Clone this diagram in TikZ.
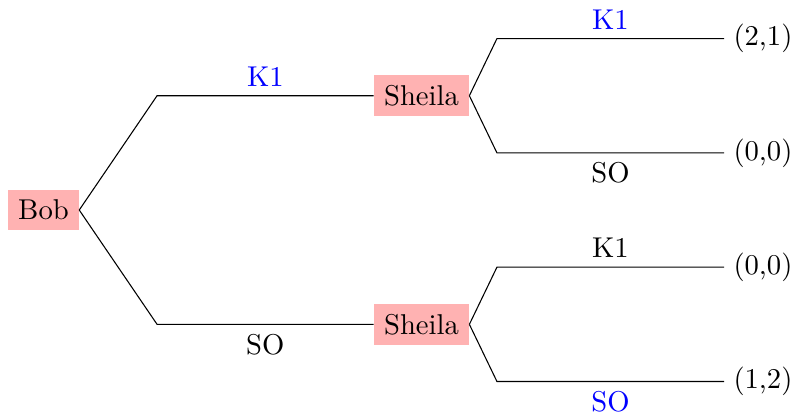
\documentclass[tikz,border=0pt]{standalone}
\usepackage{tikz}
\usetikzlibrary{positioning,calc}

\begin{document}
\begin{tikzpicture}[
  every node/.style={font=\fontsize{10.7}{13}\selectfont},
  plr/.style={
    rectangle, fill=red!30, inner sep=3.7pt
  },
  pay/.style={inner sep=3.33pt},
  eq/.style={text=blue}
]
\useasboundingbox (-0.571,-2.717) rectangle (9.835,2.756);

% Jogadores
\node[plr] (bob)  at (0,    0)   {Bob};
\node[plr] (shA)  at (4.96,  1.5) {Sheila};
\node[plr] (shB)  at (4.96, -1.5) {Sheila};

% Pagamentos
\node[pay, anchor=west] (p1) at (8.93,  2.25) {(2,1)};
\node[pay, anchor=west] (p2) at (8.93,  0.75) {(0,0)};
\node[pay, anchor=west] (p3) at (8.93, -0.75) {(0,0)};
\node[pay, anchor=west] (p4) at (8.93, -2.25) {(1,2)};

% -- Dobras --
\coordinate (kA) at (1.49,  1.5);
\coordinate (kB) at (1.49, -1.5);
\coordinate (k1) at (5.95,  2.25);
\coordinate (k2) at (5.95,  0.75);
\coordinate (k3) at (5.95, -0.75);
\coordinate (k4) at (5.95, -2.25);

% -- Ramos Bob --
\draw (bob.east) -- (kA) -- node[above, eq]{K1} (shA);
\draw (bob.east) -- (kB) -- node[below]{SO} (shB);

% -- Ramos Sheila --
\draw (shA.east) -- (k1) -- node[above, eq]{K1} (p1);
\draw (shA.east) -- (k2) -- node[below]{SO} (p2);
\draw (shB.east) -- (k3) -- node[above]{K1} (p3);
\draw (shB.east) -- (k4) -- node[below, eq]{SO} (p4);

\end{tikzpicture}
\end{document}
